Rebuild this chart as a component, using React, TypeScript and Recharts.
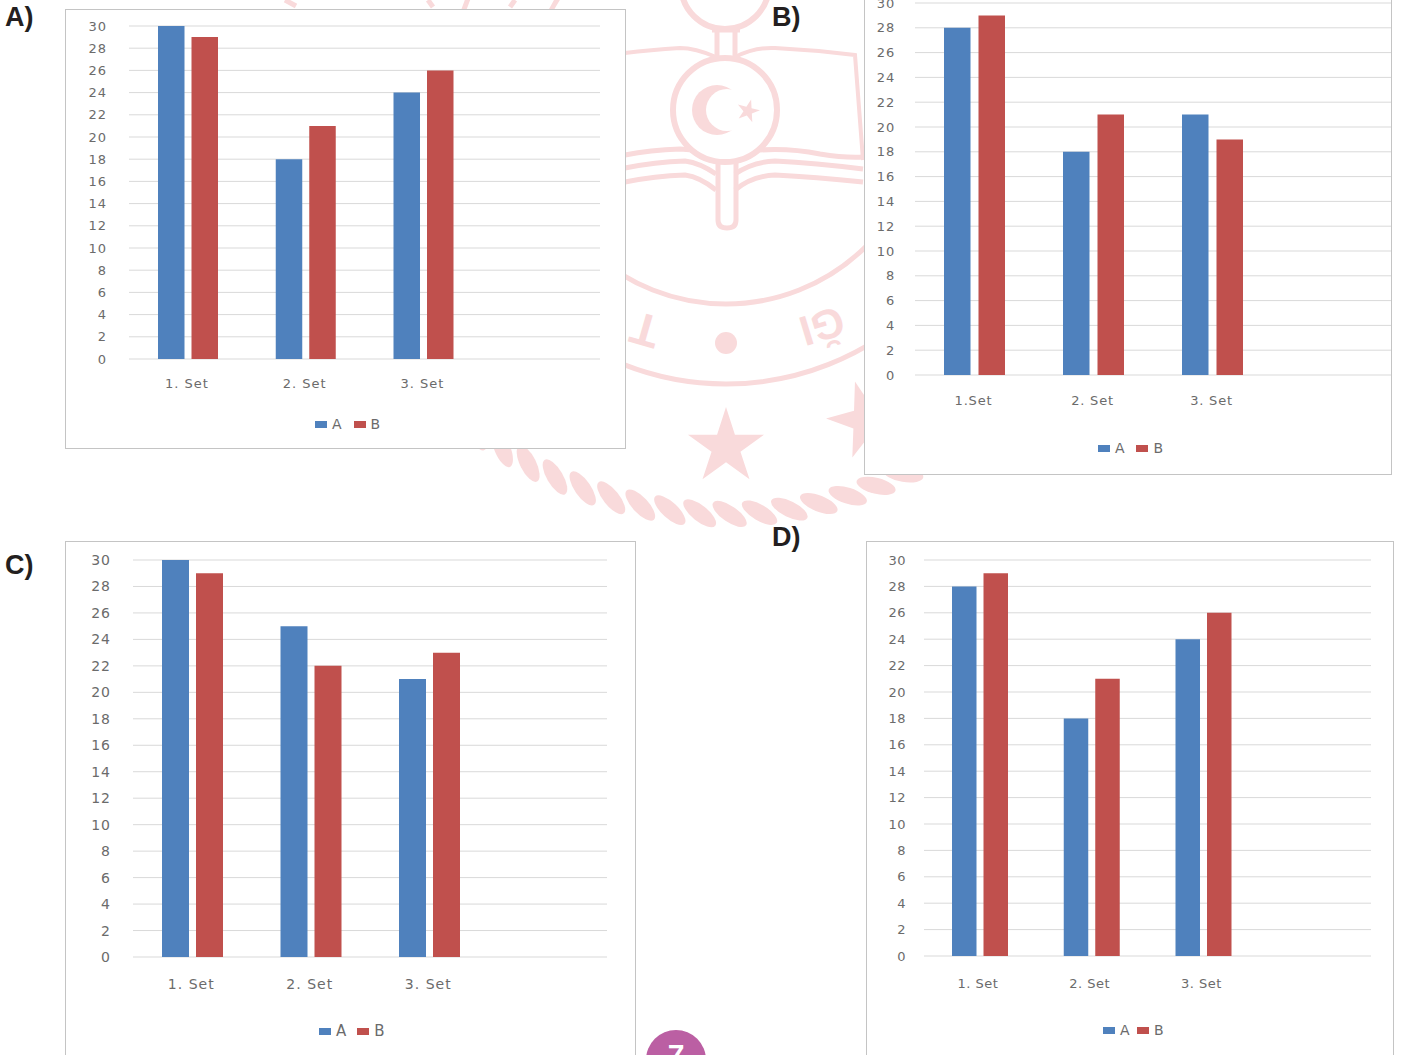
import React from 'react';
import { BarChart, Bar, XAxis, YAxis, CartesianGrid, Legend } from 'recharts';

const setLabels = ['1. Set', '2. Set', '3. Set', ''];
const setLabelsB = ['1.Set', '2. Set', '3. Set', ''];
const yTicks = [0, 2, 4, 6, 8, 10, 12, 14, 16, 18, 20, 22, 24, 26, 28, 30];

const panelAValuesA = [30, 18, 24, null];
const panelAValuesB = [29, 21, 26, null];
const panelBValuesA = [28, 18, 21, null];
const panelBValuesB = [29, 21, 19, null];
const panelCValuesA = [30, 25, 21, null];
const panelCValuesB = [29, 22, 23, null];
const panelDValuesA = [28, 18, 24, null];
const panelDValuesB = [29, 21, 26, null];

const BLUE = '#4f81bd';
const RED = '#c0504d';
const PINK = '#f9dadb';
const TEXT = '#6b6b6b';

function toRows(labels: string[], a: (number | null)[], b: (number | null)[]) {
  return labels.map((name, i) => ({ name, A: a[i], B: b[i] }));
}

interface PanelProps {
  labels: string[];
  a: (number | null)[];
  b: (number | null)[];
  // frame edges, page pixels
  left: number;
  top: number;
  right: number;
  bottom: number;
  // plot area edges, page pixels
  plotLeft: number;
  plotTop: number;
  plotRight: number;
  plotBottom: number;
  barSize: number;
  barGap: number;
  fontSize: number;
  spacing: number;
  xLabelGap: number;
  xLabelShift: number;
  yLabelGap: number;
  legendLeft: number;
  legendTop: number;
  legendGap: number;
}

function Panel(p: PanelProps) {
  const width = p.right - p.left;
  const height = p.bottom - p.top;
  const yAxisWidth = 40;
  const xAxisHeight = 30;
  const tickStyle = { fill: TEXT, fontSize: p.fontSize, fontFamily: 'DejaVu Sans', letterSpacing: p.spacing };

  const renderLegend = () => (
    <div
      style={{
        display: 'flex',
        alignItems: 'center',
        fontSize: p.fontSize + 1,
        color: TEXT,
        fontFamily: 'DejaVu Sans',
        lineHeight: `${p.fontSize}px`,
        letterSpacing: p.spacing,
      }}
    >
      <span style={{ width: 12, height: 7, background: BLUE, marginRight: 5 }} />
      <span style={{ marginRight: p.legendGap }}>A</span>
      <span style={{ width: 12, height: 7, background: RED, marginRight: 5 }} />
      <span>B</span>
    </div>
  );

  return (
    <div
      style={{
        position: 'absolute',
        left: p.left,
        top: p.top,
        width,
        height,
        background: '#fff',
        boxShadow: 'inset 0 0 0 1px #c4c4c4',
      }}
    >
      <BarChart
        width={width}
        height={height}
        data={toRows(p.labels, p.a, p.b)}
        barSize={p.barSize}
        barGap={p.barGap}
        margin={{
          left: p.plotLeft - p.left - yAxisWidth,
          top: p.plotTop - p.top,
          right: p.right - p.plotRight,
          // the axis and the measured legend are taken off on top of this
          bottom: p.bottom - p.plotBottom - xAxisHeight - p.fontSize,
        }}
      >
        <CartesianGrid vertical={false} stroke="#d9d9d9" />
        <XAxis
          dataKey="name"
          axisLine={false}
          tickLine={false}
          tickSize={0}
          tickMargin={p.xLabelGap}
          height={xAxisHeight}
          interval={0}
          tick={{ ...tickStyle, dx: p.xLabelShift }}
        />
        <YAxis
          width={yAxisWidth}
          domain={[0, 30]}
          ticks={yTicks}
          interval={0}
          axisLine={false}
          tickLine={false}
          tickSize={0}
          tickMargin={p.yLabelGap}
          tick={tickStyle}
        />
        <Legend
          content={renderLegend}
          wrapperStyle={{ position: 'absolute', left: p.legendLeft - p.left, top: p.legendTop - p.top, bottom: 'auto', width: 'auto' }}
        />
        <Bar dataKey="A" fill={BLUE} isAnimationActive={false} />
        <Bar dataKey="B" fill={RED} isAnimationActive={false} />
      </BarChart>
    </div>
  );
}

function Star({ cx, cy, r, rot = 0 }: { cx: number; cy: number; r: number; rot?: number }) {
  const pts: string[] = [];
  for (let i = 0; i < 10; i++) {
    const rad = i % 2 === 0 ? r : r * 0.38;
    const ang = ((rot - 90 + i * 36) * Math.PI) / 180;
    pts.push(`${cx + rad * Math.cos(ang)},${cy + rad * Math.sin(ang)}`);
  }
  return <polygon points={pts.join(' ')} fill={PINK} />;
}

// faded seal behind the panels
function Watermark() {
  const strands: number[] = [];
  for (let a = 48; a <= 132; a += 4.15) strands.push(a);
  return (
    <svg width={1410} height={1055} style={{ position: 'absolute', left: 0, top: 0 }}>
      <g fill="none" stroke={PINK}>
        <circle cx={726} cy={105} r={199} strokeWidth={5} />
        <circle cx={726} cy={105} r={279} strokeWidth={5} />
        <path d="M625 53 Q650 50 680 48 Q695 48 716 57" strokeWidth={4} />
        <path d="M735 57 Q755 47 775 48 Q815 50 855 55 L863 160" strokeWidth={4} />
        <path d="M625 155 Q650 150 680 149 Q695 150 690 150 M760 150 Q790 148 820 154 Q845 158 863 157" strokeWidth={5} />
        <path d="M625 168 Q655 162 685 161 Q700 163 716 174 M735 174 Q752 162 775 161 Q815 163 863 169" strokeWidth={5} />
        <path d="M625 182 Q655 176 685 175 Q700 177 716 190 M735 190 Q752 176 775 175 Q815 177 863 182" strokeWidth={5} />
        <circle cx={725} cy={110} r={52} strokeWidth={6} fill="#fff" />
        <circle cx={725} cy={-15} r={44} strokeWidth={6} />
        <path d="M712 30h28M717 32v26M735 32v26" strokeWidth={5} />
        <path d="M718 163 V220 Q718 228 727 228 Q736 228 736 220 V163" strokeWidth={5} />
      </g>
      <circle cx={717} cy={110} r={25} fill={PINK} />
      <circle cx={727} cy={110} r={21} fill="#fff" />
      <Star cx={748} cy={111} r={12} rot={15} />
      <circle cx={726} cy={343} r={11} fill={PINK} />
      <Star cx={726} cy={447} r={40} />
      <Star cx={866} cy={420} r={40} rot={-16} />
      <text x={645} y={330} transform="rotate(196 645 330)" textAnchor="middle" dominantBaseline="central" fill={PINK} fontFamily="Liberation Sans" fontWeight="bold" fontSize={46}>T</text>
      <text x={822} y={326} transform="rotate(163 822 326)" textAnchor="middle" dominantBaseline="central" fill={PINK} fontFamily="Liberation Sans" fontWeight="bold" fontSize={42}>ĞI</text>
      <g fill={PINK}>
        {strands.map((a) => {
          const rad = (a * Math.PI) / 180;
          const x = 726 + 414 * Math.cos(rad);
          const y = 100 + 414 * Math.sin(rad);
          return <ellipse key={a} cx={x} cy={y} rx={20} ry={8} transform={`rotate(${a - 55} ${x} ${y})`} />;
        })}
      </g>
      <path d="M285 0 L296 6 M428 0 L433 7 M515 0 L510 7" stroke={PINK} strokeWidth={5} />
    </svg>
  );
}

const labelStyle: React.CSSProperties = {
  position: 'absolute',
  fontFamily: 'Liberation Sans',
  fontWeight: 'bold',
  fontSize: 27,
  color: '#231f20',
  lineHeight: '30px',
};

export default function App() {
  return (
    <div style={{ position: 'absolute', left: 0, top: 0, width: 1410, height: 1055, overflow: 'hidden', background: '#fff' }}>
      <Watermark />
      <Panel
        labels={setLabels}
        a={panelAValuesA}
        b={panelAValuesB}
        left={65}
        top={9}
        right={626}
        bottom={449}
        plotLeft={129}
        plotTop={26}
        plotRight={600}
        plotBottom={359}
        barSize={26.5}
        barGap={7}
        fontSize={13}
        spacing={1}
        xLabelGap={20}
        xLabelShift={-1}
        yLabelGap={22}
        legendLeft={315}
        legendTop={418}
        legendGap={11}
      />
      <Panel
        labels={setLabelsB}
        a={panelBValuesA}
        b={panelBValuesB}
        left={864}
        top={-30}
        right={1392}
        bottom={475}
        plotLeft={915}
        plotTop={3}
        plotRight={1391}
        plotBottom={375}
        barSize={26.5}
        barGap={8}
        fontSize={13}
        spacing={0.8}
        xLabelGap={21}
        xLabelShift={-1}
        yLabelGap={20}
        legendLeft={1098}
        legendTop={442}
        legendGap={11}
      />
      <Panel
        labels={setLabels}
        a={panelCValuesA}
        b={panelCValuesB}
        left={65}
        top={541}
        right={636}
        bottom={1075}
        plotLeft={133}
        plotTop={560}
        plotRight={607}
        plotBottom={957}
        barSize={27}
        barGap={7}
        fontSize={14}
        spacing={1}
        xLabelGap={22}
        xLabelShift={-1}
        yLabelGap={22}
        legendLeft={319}
        legendTop={1024}
        legendGap={10}
      />
      <Panel
        labels={setLabels}
        a={panelDValuesA}
        b={panelDValuesB}
        left={866}
        top={541}
        right={1394}
        bottom={1075}
        plotLeft={924}
        plotTop={560}
        plotRight={1371}
        plotBottom={956}
        barSize={24.5}
        barGap={7}
        fontSize={13}
        spacing={0.5}
        xLabelGap={23}
        xLabelShift={-2}
        yLabelGap={18}
        legendLeft={1103}
        legendTop={1024}
        legendGap={7}
      />
      <div style={{ ...labelStyle, left: 5, top: 2 }}>A)</div>
      <div style={{ ...labelStyle, left: 772, top: 2 }}>B)</div>
      <div style={{ ...labelStyle, left: 5, top: 550 }}>C)</div>
      <div style={{ ...labelStyle, left: 772, top: 522 }}>D)</div>
      <div
        style={{
          position: 'absolute',
          left: 646,
          top: 1030,
          width: 60,
          height: 60,
          borderRadius: 30,
          background: '#bb5fa3',
          color: '#fff',
          textAlign: 'center',
          fontFamily: 'Liberation Sans',
          fontWeight: 'bold',
          fontSize: 30,
          lineHeight: '50px',
        }}
      >
        7
      </div>
    </div>
  );
}
